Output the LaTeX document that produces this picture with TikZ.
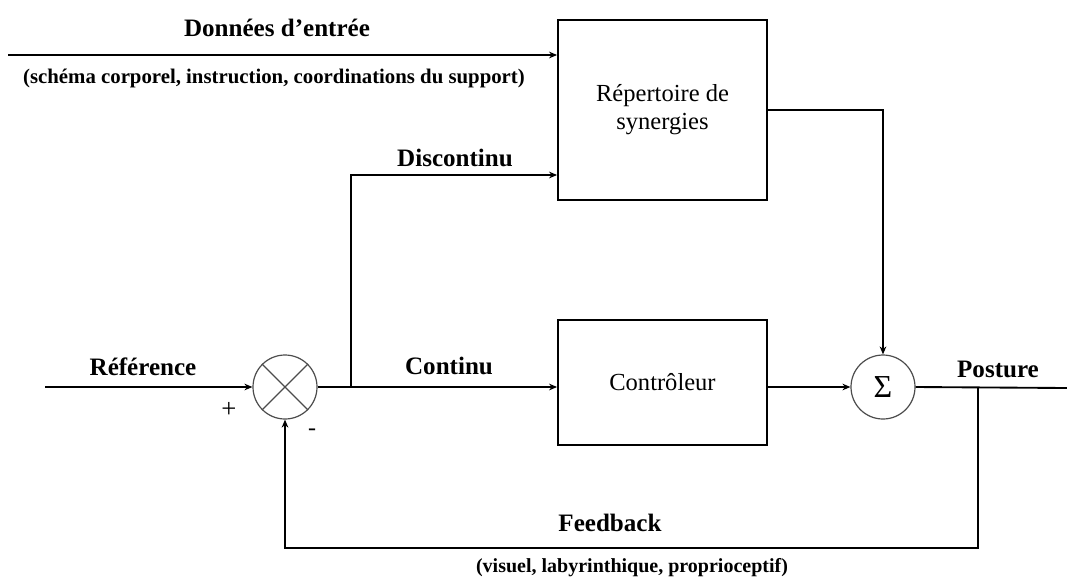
\documentclass[tikz,border=0pt]{standalone}
\usepackage{fontspec}
\setmainfont{Liberation Serif}
\usetikzlibrary{positioning,arrows.meta}

\begin{document}
\begin{tikzpicture}[x=0.75pt, y=-0.75pt, >={Stealth[length=6pt,width=5pt]}, line width=1.4pt,
  lbl/.style={font=\fontsize{18.8}{20}\selectfont\bfseries},
  note/.style={font=\fontsize{15}{16}\selectfont\bfseries},
  block/.style={draw, rectangle, align=center, font=\fontsize{18.4}{21}\selectfont},
  junction/.style={draw=black!70, circle, line width=0.9pt, minimum size=48pt, inner sep=0pt}]
\useasboundingbox (0,0) rectangle (1067,583);

% Nodes
\node[block, minimum width=156.75pt, minimum height=135pt] (rep) at (662.5,110) {Répertoire de\\synergies};
\node[block, minimum width=156.75pt, minimum height=93.75pt] (ctrl) at (662.5,382.5) {Contrôleur};
\node[junction] (cmp) at (285,387) {};
\node[junction, font=\fontsize{24}{26}\selectfont] (sum) at (883,387) {Σ};
\draw[black!70, line width=0.9pt] (cmp.north west) -- (cmp.south east) (cmp.north east) -- (cmp.south west);

\coordinate (in) at (8,55);
\coordinate (ref) at (45,387);
\coordinate (br) at (351,387);
\coordinate (disc) at (351,175);
\coordinate (fb) at (978,388);
\coordinate (fbc) at (978,548);
\coordinate (out) at (1067,388);

% Labels
\node[lbl] (lin) at (277,28) {Données d’entrée};
\node[note, font=\fontsize{15.6}{17}\selectfont\bfseries] (lins) at (274,78) {(schéma corporel, instruction, coordinations du support)};
\node[lbl] (ldisc) at (455,158) {Discontinu};
\node[lbl] (lref) at (143,367) {Référence};
\node[lbl] (lcont) at (449,366) {Continu};
\node[lbl] (lpos) at (998,369) {Posture};
\node[lbl] (lfb) at (610,523) {Feedback};
\node[note] (lfbs) at (632,568) {(visuel, labyrinthique, proprioceptif)};
\node[font=\fontsize{20}{22}\selectfont] (plus) at (229,410) {+};
\node[font=\fontsize{18}{20}\selectfont] (minus) at (312,432) {-};

% Arrows
\draw[->] (in) -- (in -| rep.west);
\draw[->] (ref) -- (cmp.west);
\draw (cmp.east) -- (br);
\draw[->] (br) -- (br -| ctrl.west);
\draw[->] (br) -- (disc) -- (disc -| rep.west);
\draw[->] (ctrl.east |- sum.west) -- (sum.west);
\draw[->] (rep.east |- 0,110) -| (sum.north);
\draw (sum.east) -- (out);
\draw[->] (fb) -- (fbc) -| (cmp.south);

\end{tikzpicture}
\end{document}
